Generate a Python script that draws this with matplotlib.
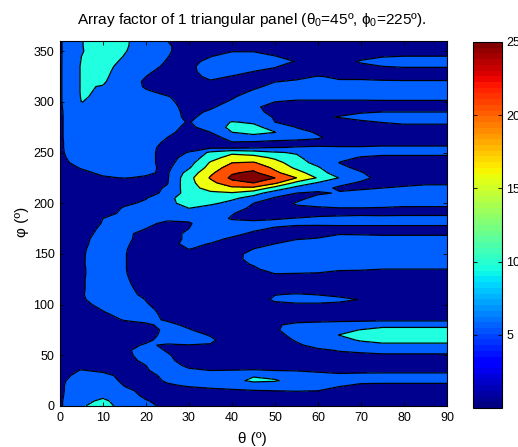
import numpy as np
import matplotlib
matplotlib.use("Agg")
import matplotlib.pyplot as plt
from matplotlib.cm import ScalarMappable
from matplotlib.colors import Normalize

plt.rcParams["font.family"] = ["Liberation Sans", "DejaVu Sans"]
plt.rcParams["mathtext.fontset"] = "custom"
plt.rcParams["mathtext.rm"] = "Liberation Sans"
plt.rcParams["mathtext.it"] = "Liberation Sans"

theta = list(range(0, 95, 5))
phi = list(range(0, 365, 5))

# one row per phi, one value per theta
af = [
    [4.4, 9.5, 12, 8, 5.8, 4.2, 3, 2.5, 2, 2, 2, 2, 2, 2, 2, 2, 2, 2, 2],
    [4.5, 8.5, 11, 7.5, 5.2, 4, 3, 2.5, 2.5, 2.5, 2.5, 2.5, 2.5, 2.5, 2.5, 2.5, 2.5, 2.5, 2.5],
    [4.5, 7.5, 9, 6.5, 4.4, 3.5, 3, 3, 3, 3, 3, 3, 3, 3, 3, 3, 3, 3, 3],
    [4.5, 7, 8, 5.7, 4.2, 3.5, 3.8, 4, 4.4, 4.8, 5, 5.2, 5, 4, 3.5, 3.5, 3.5, 3.5, 3.5],
    [4.5, 7, 7.5, 4.9, 3.8, 4.5, 5.3, 6, 6.5, 7, 7, 7, 6.5, 5.2, 4.5, 4.3, 4.3, 4.3, 4.3],
    [4.4, 6.5, 6.7, 4.3, 3.5, 5.5, 7, 8, 8.5, 11, 10.5, 8, 7.5, 7, 5.7, 5.8, 5.8, 5.8, 5.8],
    [4, 6, 6, 4, 3.8, 6, 6.5, 7, 7.5, 9.6, 8.5, 7.5, 6, 5.5, 5.7, 5.8, 5.8, 5.8, 5.8],
    [3.6, 5.2, 4.4, 3.2, 4.7, 6.5, 5.4, 5, 5.1, 5.3, 5, 4.8, 4.5, 4.3, 4.3, 4.3, 4.3, 4.3, 4.3],
    [3.2, 3.8, 3, 3, 5, 6, 4.5, 3.8, 3.5, 3.5, 3.5, 3.5, 3.5, 3.5, 3.5, 3.5, 3.5, 3.5, 3.5],
    [3, 3, 2.5, 3.5, 6, 5.5, 4, 3, 3, 3, 3, 3.5, 3.5, 3.5, 3.5, 3.5, 3.5, 3.5, 3.5],
    [2.5, 2.5, 2.5, 4, 6.5, 5.3, 3.5, 2.5, 2.5, 2.5, 3, 3.5, 4.2, 4.3, 4.4, 4.6, 4.6, 4.6, 4.6],
    [2, 2.5, 2.5, 4.3, 6.5, 4.7, 3.5, 3, 2.5, 2.5, 3, 3.8, 4.5, 5.2, 5.6, 6, 6, 6, 6],
    [2, 2, 2.5, 4.2, 5.3, 4.7, 4.9, 4.8, 3, 3, 3.5, 4.5, 6, 7, 8, 9, 9, 9, 9],
    [2, 2, 2, 3, 4.5, 6, 6.5, 5.5, 3.5, 3, 3.5, 5.3, 7, 8.5, 10.5, 11.5, 11.5, 11.5, 11.5],
    [2, 2, 2, 2, 3.8, 6, 6, 4.8, 3.5, 3, 4, 6, 8, 10.1, 12, 13, 13, 13, 13],
    [2, 2, 2, 2, 3.6, 5.8, 5.2, 3.8, 3, 3.5, 4.6, 6.5, 7.5, 8.5, 10.2, 12, 12, 12, 12],
    [2, 2, 2.5, 3.8, 4.6, 5.7, 4.4, 3.5, 3, 3.5, 4.7, 5.6, 6, 6.5, 7, 8, 8, 8, 8],
    [2, 2.5, 3.8, 5.2, 5.7, 4.7, 3.5, 3, 3, 3, 3.5, 4.2, 4.2, 4.2, 4.2, 4.2, 4.2, 4.2, 4.2],
    [2, 2.5, 4.4, 6, 5.7, 4.5, 3, 2.5, 2.5, 2.5, 2.5, 3, 3, 3, 3, 3, 3, 3, 3],
    [2, 3, 5.2, 6.5, 5.5, 4.3, 2.5, 2.5, 2.5, 2.8, 3.5, 3.5, 3.5, 3.3, 3, 2.5, 2.5, 2.5, 2.5],
    [2, 4, 6, 7, 5.2, 3.9, 2.5, 2.5, 2.5, 3, 4.3, 4.6, 4.6, 4.5, 3.8, 2.5, 2.5, 2.5, 2.5],
    [2, 4.6, 6.5, 7, 4.9, 3, 2.5, 2.5, 2.5, 3.5, 5.5, 6, 6, 5.5, 4.9, 2.5, 2.5, 2.5, 2.5],
    [2, 4.7, 7, 6.5, 4, 2.5, 2, 2, 2.5, 3, 4.9, 5.2, 4.9, 4.5, 3.5, 2.5, 2.5, 2.5, 2.5],
    [2, 4.6, 7, 6, 3.8, 2.5, 2, 2, 2.5, 2.5, 3.5, 3.8, 3.5, 3, 2.5, 2.5, 2.5, 2.5, 2.5],
    [2, 4.6, 7, 5.7, 3.5, 2, 2, 2, 2.5, 2.5, 2.5, 2.5, 2.5, 2.5, 2.5, 2.5, 2.5, 2.5, 3],
    [2, 4.6, 7, 5.5, 3.2, 2, 2, 2, 2.5, 3, 3.5, 3.5, 3.5, 3.5, 3.5, 3.5, 3.5, 3.5, 3.5],
    [2.5, 4.5, 7, 5.3, 3, 2, 2, 2, 3, 4, 4.9, 4.8, 4.7, 4.5, 4.3, 4.2, 4, 4, 4],
    [2.5, 4.5, 7, 5.2, 3, 2, 2, 2.5, 3.5, 4.6, 6, 6, 5.8, 5.2, 5.2, 5, 5, 5, 5],
    [2.5, 4.6, 7, 5.2, 3, 2, 2.5, 3, 4.2, 5.2, 7, 7, 7, 7, 6.5, 6.5, 6.5, 6.5, 6.5],
    [2.5, 4.6, 7, 5.2, 3, 2.5, 3, 3.3, 4, 6, 7.5, 8, 8, 7.5, 7.5, 7.5, 7.5, 7.5, 7.5],
    [2.5, 4.6, 6.8, 5.2, 3, 2.8, 3.5, 3.8, 4.1, 5.8, 8, 8, 8, 8, 8, 8, 8, 8, 8],
    [2.5, 4.5, 6.6, 5.3, 3.2, 3.3, 5.1, 4.2, 3.5, 5, 7, 8, 8, 8, 8, 8, 8, 8, 8],
    [2.5, 4.3, 6.4, 5.4, 3.8, 4.3, 5.6, 4.9, 3.5, 3.5, 5, 6.5, 7, 7, 7, 7, 7, 7, 7],
    [2.5, 4.2, 6.2, 5.6, 4, 4, 5.5, 5.8, 4.6, 3.5, 3.5, 4.7, 5.2, 6, 6, 6, 6, 6, 6],
    [2.5, 4, 5.8, 5.5, 4.3, 4, 5.5, 7, 5.8, 4.5, 3.5, 3.5, 3.8, 4.8, 4.7, 4.5, 4.5, 4.5, 4.5],
    [2.5, 3.8, 5.5, 5.8, 5, 4, 5, 7, 6.5, 5.6, 4.7, 3.8, 3.8, 4, 4, 4, 4, 4, 4],
    [2.5, 3.2, 5.2, 6, 5.5, 4.5, 4.7, 6.8, 6, 6, 5.7, 5.8, 5.7, 5.7, 5.7, 5.7, 5.7, 5.7, 5.7],
    [2.5, 2.5, 5, 6.5, 6.5, 5.5, 5.7, 6.5, 4.7, 4.2, 4.8, 5.1, 5.6, 5.7, 5.7, 5.7, 5.7, 5.7, 5.7],
    [2.5, 2.5, 3.8, 5.7, 6.5, 6, 8, 7.5, 5.2, 3.5, 3.5, 4, 4, 4.3, 4.5, 4.4, 4.5, 4.5, 4.5],
    [2.5, 2.5, 3, 5.4, 6, 7, 10, 8, 7, 4, 3, 4.5, 4.6, 4.9, 4.9, 4.8, 4.5, 4.5, 4.5],
    [2.5, 2.5, 2.5, 4.3, 5.6, 9.3, 11, 11, 8.5, 5, 3.5, 5.3, 6, 6, 6, 6, 6, 6, 6],
    [2.5, 2.5, 2.5, 3, 4.8, 9, 12, 12.5, 11, 8, 4.5, 4, 6, 6.5, 7, 7, 7, 7, 7],
    [2.5, 2.5, 2.5, 3, 3.5, 6, 12.5, 14, 14.6, 12, 7.5, 5, 4.5, 5.3, 6, 7, 7, 7, 7],
    [2.5, 2.5, 2.5, 2.5, 3.5, 5.5, 13, 17, 19, 19, 13, 8.5, 6.3, 4.4, 4.5, 5, 5.3, 5.7, 5.7],
    [2.5, 2.5, 2.5, 2.5, 3.5, 4.8, 13.5, 18.5, 23.5, 25, 21, 13.5, 9.5, 6, 4.5, 4.2, 4.4, 4.6, 4.6],
    [2.8, 2.8, 4.7, 5.1, 4.7, 4.6, 13.5, 20.5, 26, 28, 25, 20, 14.5, 9.8, 6, 3.8, 3.5, 3.5, 3.5],
    [3.3, 4.4, 5.5, 6, 5.4, 4.5, 12, 19, 24.5, 26, 21, 17, 12, 7.5, 5.3, 3, 3, 3, 3],
    [3.8, 5.2, 6.5, 6.5, 6, 4, 9.5, 17, 22.5, 23.5, 19, 14, 10.5, 6, 4, 3, 3, 3, 3],
    [4.2, 6, 7, 7, 6.2, 3.5, 8, 15.5, 19.9, 20.4, 17, 12, 8.5, 4.9, 3.8, 3.5, 3.5, 3.5, 3.5],
    [4.4, 6.5, 7.5, 7.5, 6.2, 3.5, 6.5, 13, 17, 17, 14, 11, 7, 5.8, 4.8, 4.4, 4.4, 4.4, 4.4],
    [4.5, 7, 8, 8, 6.2, 3.5, 5.2, 11, 14, 12.5, 10.5, 9.5, 6.5, 6, 6, 5.8, 5.8, 5.8, 5.8],
    [4.5, 7.5, 8.5, 8.5, 6, 4, 3.5, 4, 3.5, 4.2, 4.9, 5.1, 5.3, 5.2, 5.2, 5.4, 5.4, 5.4, 5.4],
    [4.5, 7.5, 8.5, 8.5, 6.2, 4.5, 3.5, 3.5, 4.9, 4.4, 4, 4.3, 4, 4, 4, 4, 4, 4, 4],
    [4.5, 8, 9, 9, 6.8, 5, 3.5, 4, 6, 8.5, 7, 5.8, 5.4, 3.5, 3, 3, 3, 3, 3],
    [4.5, 8, 9, 9, 7, 5.6, 4, 5, 10, 11.2, 10.1, 6.5, 4.5, 3.5, 3, 3, 3, 3, 3],
    [4.5, 8, 9, 9, 7, 6, 4.3, 6.5, 11.5, 11, 8.5, 4.8, 3.5, 3, 3.5, 4, 4, 4, 4],
    [4.5, 8, 9, 9, 7.5, 6.5, 4.7, 8, 10.2, 9.5, 5, 3.5, 3.5, 3.5, 4.5, 5.1, 5.7, 5.7, 5.7],
    [4.5, 8, 9, 9, 7.5, 6.5, 4.2, 6.5, 8, 8, 4.5, 3.5, 4.4, 5.2, 6, 6, 6, 6, 6],
    [4.5, 8.2, 9, 9, 7.5, 6.5, 4, 5.5, 7.5, 6, 4, 3.5, 3.5, 4, 4.7, 5, 5, 5, 5],
    [4.5, 9, 9, 9, 7.5, 6.2, 3.8, 4.5, 6.5, 5.5, 4, 3, 3, 3, 3.5, 4, 4, 4, 4],
    [4.5, 10.05, 9.2, 9, 7.5, 5.8, 3.5, 3.5, 5.5, 6, 5, 4.5, 4.5, 4.5, 4.5, 4.6, 4.6, 4.6, 4.6],
    [4.5, 10.3, 9.4, 9, 6.5, 5.2, 3.5, 3.5, 4.5, 7, 6, 6, 6, 6, 6, 6, 6, 6, 6],
    [4.5, 10.4, 9.6, 8.5, 5.5, 4, 3, 3, 3.5, 5.5, 7, 7, 7, 7, 7, 7, 7, 7, 7],
    [4.5, 10.4, 9.8, 7.5, 4.5, 3.5, 3, 3.5, 3.5, 4.3, 6, 6.5, 7, 7, 7, 7, 6.5, 6.5, 6.5],
    [4.5, 10.4, 10.5, 7.2, 4.4, 3.8, 3.5, 4.6, 3.5, 3.5, 4.9, 5.3, 5.8, 5.2, 5.2, 5.2, 5.2, 5.2, 5.2],
    [4.5, 10.4, 11, 7.3, 5, 4, 3.5, 6, 4.8, 4, 3.5, 4.4, 5.1, 4.7, 4.7, 4.4, 4.2, 4.2, 4.2],
    [4.5, 10.4, 11.5, 7.5, 5.4, 4.2, 3.8, 7, 6.5, 5, 4.1, 3.5, 3.5, 3.5, 3.5, 4, 4.2, 4.2, 4.2],
    [4.5, 10.4, 12, 8, 6, 4.5, 3.8, 7.5, 7.5, 6.5, 5.3, 3.5, 3.5, 3.5, 4.3, 5, 5.2, 5.2, 5.2],
    [4.5, 10.2, 12.5, 9, 6.5, 4.8, 3.8, 6, 8, 7.5, 6.5, 4.8, 3.5, 3.5, 5.4, 6, 6, 6, 6],
    [4.5, 10, 13, 9.8, 7, 5.1, 3.5, 4.8, 6.5, 6.5, 5.1, 3.5, 3.5, 3, 3.5, 4.8, 5, 5, 5],
    [4.5, 9.7, 12.5, 10.3, 7.5, 5.5, 3, 3.2, 4.8, 4.8, 3.5, 3, 3, 3, 3, 3.5, 3.5, 3.5, 3.5],
    [4.5, 9.8, 12.5, 10.5, 8, 5.5, 3, 3, 3, 3, 3, 3, 3, 3, 3, 3, 3, 3, 3],
    [4.5, 9.8, 12.5, 10.6, 8, 5, 3, 3, 3, 3, 3, 3, 3, 3, 3, 3, 3, 3, 3],
]

levels = [0, 5, 10, 15, 20, 25, 30]
fill_colors = ["#00008f", "#0060ff", "#20ffdf", "#efff10", "#ff5000", "#800000"]

x_ticks = list(range(0, 100, 10))
y_ticks = list(range(0, 400, 50))
cbar_ticks = [5, 10, 15, 20, 25]


def main():
    fig = plt.figure(figsize=(5.18, 4.47), dpi=100)
    w, h = 518.0, 447.0

    ax = fig.add_axes([60 / w, 1 - 406 / h, 387 / w, 365 / h])
    z = np.array(af)
    ax.contourf(theta, phi, z, levels=levels, colors=fill_colors)
    ax.contour(theta, phi, z, levels=levels[1:-1], colors="k", linewidths=0.9)
    ax.set_xlim(0, 90)
    ax.set_ylim(0, 360)
    ax.set_xticks(x_ticks)
    ax.set_yticks(y_ticks)
    ax.tick_params(direction="in", top=True, right=True, length=3, width=0.6,
                   labelsize=9, pad=4, color="k")
    for s in ax.spines.values():
        s.set_linewidth(0.8)

    fig.text(252 / w, 1 - 24 / h,
             r"Array factor of 1 triangular panel ($\theta_0$=45º, $\phi_0$=225º).",
             ha="center", va="baseline", fontsize=11.1)
    fig.text(252 / w, 1 - 443 / h, r"θ (º)", ha="center", va="baseline", fontsize=11)
    fig.text(22 / w, 1 - 222 / h, r"φ (º)", ha="center", va="center",
             rotation=90, fontsize=11)

    cax = fig.add_axes([473 / w, 1 - 408 / h, 29 / w, 366 / h])
    sm = ScalarMappable(norm=Normalize(0, 25), cmap=plt.get_cmap("jet", 64))
    cb = fig.colorbar(sm, cax=cax, ticks=cbar_ticks)
    cb.ax.tick_params(direction="in", left=True, right=True, length=3, width=0.6,
                      labelsize=9, pad=3)
    cb.outline.set_linewidth(0.8)

    fig.savefig("out.png", dpi=100)


if __name__ == "__main__":
    main()
